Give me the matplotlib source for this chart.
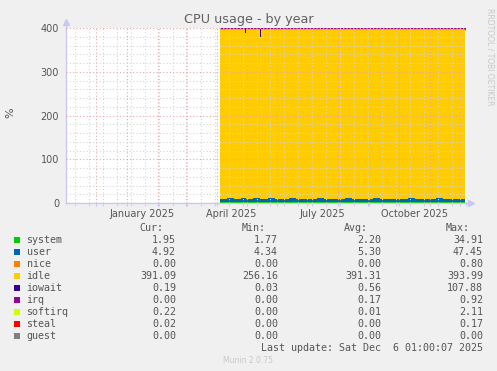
import datetime as dt
import numpy as np
import matplotlib
matplotlib.use("Agg")
import matplotlib.pyplot as plt
import matplotlib.dates as mdates
from matplotlib.patches import Rectangle

W, H = 497, 371

# sample dates (each value holds until the next date)
dates = ["2025-04-04", "2025-04-11", "2025-04-18", "2025-04-25", "2025-04-29",
         "2025-04-30", "2025-05-07", "2025-05-15", "2025-05-16", "2025-05-23",
         "2025-05-30", "2025-06-06", "2025-06-13", "2025-06-20", "2025-06-27",
         "2025-07-04", "2025-07-11", "2025-07-18", "2025-07-25", "2025-08-01",
         "2025-08-08", "2025-08-15", "2025-08-22", "2025-08-29", "2025-09-05",
         "2025-09-12", "2025-09-19", "2025-09-26", "2025-10-03", "2025-10-10",
         "2025-10-17", "2025-10-24", "2025-10-31", "2025-11-07", "2025-11-14",
         "2025-11-21", "2025-11-28", "2025-12-06"]

system = [2.3, 2.2, 2.1, 2.4, 3.0, 2.3, 2.2, 2.6, 2.2, 2.1, 2.2, 2.3, 2.1, 2.2, 2.0,
          2.2, 2.3, 2.1, 2.2, 2.0, 2.1, 2.2, 2.3, 2.1, 2.2, 2.4, 2.2, 2.1, 2.3, 2.2,
          2.1, 2.0, 2.2, 2.1, 2.0, 2.1, 1.9, 1.95]
user = [7.0, 9.5, 6.7, 8.0, 8.5, 6.5, 10.0, 7.5, 6.7, 9.0, 6.5, 6.8, 9.3, 6.6, 6.4,
        6.7, 9.7, 6.5, 6.9, 6.3, 9.4, 6.6, 6.5, 6.8, 9.5, 6.7, 6.4, 6.6, 6.5, 9.1,
        6.7, 6.3, 6.5, 8.9, 6.6, 6.4, 6.5, 4.92]
idle = [388.9, 386.0, 389.1, 387.7, 376.2, 388.9, 386.0, 369.6, 389.6, 388.0,
        390.6, 390.3, 387.9, 390.6, 391.1, 390.5, 387.5, 390.8, 390.4, 391.2,
        387.9, 390.7, 390.7, 390.5, 387.8, 390.4, 390.8, 390.8, 390.7, 388.1,
        390.5, 390.0, 390.7, 388.5, 390.9, 390.9, 391.1, 391.09]
iowait = [1.5, 2.0, 1.8, 1.6, 12.0, 2.0, 1.5, 20.0, 1.2, 0.6, 0.5, 0.4, 0.5, 0.4, 0.3,
          0.4, 0.3, 0.4, 0.3, 0.3, 0.4, 0.3, 0.3, 0.4, 0.3, 0.3, 0.4, 0.3, 0.3, 0.4,
          0.5, 1.5, 0.4, 0.3, 0.3, 0.4, 0.3, 0.19]
irq = [0.3, 0.3, 0.3, 0.3, 0.3, 0.3, 0.3, 0.3, 0.3, 0.3, 0.2, 0.2, 0.2, 0.2, 0.2,
       0.2, 0.2, 0.2, 0.2, 0.2, 0.2, 0.2, 0.2, 0.2, 0.2, 0.2, 0.2, 0.2, 0.2, 0.2,
       0.2, 0.2, 0.2, 0.2, 0.2, 0.2, 0.2, 0.0]
softirq = [0.01, 0.01, 0.01, 0.01, 0.01, 0.01, 0.01, 0.01, 0.01, 0.01, 0.01, 0.01,
           0.01, 0.01, 0.01, 0.01, 0.01, 0.01, 0.01, 0.01, 0.01, 0.01, 0.01, 0.01,
           0.01, 0.01, 0.01, 0.01, 0.01, 0.01, 0.01, 0.01, 0.01, 0.01, 0.01, 0.01,
           0.2, 0.22]

# legend table
names = ["system", "user", "nice", "idle", "iowait", "irq", "softirq", "steal", "guest"]
colors = ["#00CC00", "#0066B3", "#FF8000", "#FFCC00", "#330099", "#990099",
          "#CCFF00", "#FF0000", "#808080"]
cur = ["1.95", "4.92", "0.00", "391.09", "0.19", "0.00", "0.22", "0.02", "0.00"]
mins = ["1.77", "4.34", "0.00", "256.16", "0.03", "0.00", "0.00", "0.00", "0.00"]
avg = ["2.20", "5.30", "0.00", "391.31", "0.56", "0.17", "0.01", "0.00", "0.00"]
maxs = ["34.91", "47.45", "0.80", "393.99", "107.88", "0.92", "2.11", "0.17", "0.00"]

month_labels = ["January 2025", "April 2025", "July 2025", "October 2025"]
label_dates = [dt.datetime(2025, 1, 16), dt.datetime(2025, 4, 16),
               dt.datetime(2025, 7, 16), dt.datetime(2025, 10, 16)]

t0 = dt.datetime(2024, 11, 1, 1, 0)
t1 = dt.datetime(2025, 12, 6, 1, 0)

txt = "#555555"
axis_col = "#C8C8F0"
major_col = "#E8A8A8"
minor_col = "#D4D4D4"


def fx(x):
    return x / W


def fy(y):
    return 1 - y / H


fig = plt.figure(figsize=(W / 100, H / 100), dpi=100, facecolor="#F0F0F0")
ax = fig.add_axes([fx(66), fy(203), 400 / W, 175 / H])
ax.set_facecolor("white")

x = mdates.date2num([dt.datetime.fromisoformat(d) for d in dates])
layers = [system, user, idle, iowait, irq, softirq]
lcols = ["#00CC00", "#0066B3", "#FFCC00", "#330099", "#990099", "#CCFF00"]
tops = np.cumsum(np.array(layers), axis=0)
lower = np.zeros(len(x))
for top, c in zip(tops, lcols):
    ax.fill_between(x, lower, top, step="post", color=c, linewidth=0, zorder=1)
    lower = top
# irq shows as a thin line along the top
ax.step(x, tops[4], where="post", color="#990099", lw=1.0, zorder=1.5)

ax.set_xlim(mdates.date2num(t0), mdates.date2num(t1))
ax.set_ylim(0, 400)

# grid: pink at month starts, grey every two weeks
ax.xaxis.set_major_locator(mdates.MonthLocator())
ax.set_xticks([mdates.date2num(dt.datetime(2024, 11, 10) + dt.timedelta(days=14 * i))
               for i in range(29)], minor=True)
ax.xaxis.set_major_formatter(plt.NullFormatter())
ax.set_yticks([0, 100, 200, 300, 400])
ax.set_yticks(range(0, 401, 20), minor=True)
ax.grid(which="minor", color=minor_col, linestyle=(0, (1, 2)), linewidth=0.8)
ax.grid(which="major", color=major_col, linestyle=(0, (1, 2)), linewidth=0.8)
ax.set_axisbelow(False)
ax.tick_params(axis="y", which="both", length=0, labelsize=7, labelcolor=txt, pad=5)
ax.tick_params(axis="x", which="both", direction="out", length=2, color=axis_col)

for lab, d in zip(month_labels, label_dates):
    ax.text(mdates.date2num(d), -0.065, lab, transform=ax.get_xaxis_transform(),
            ha="center", va="center", fontsize=7, color=txt)

for s in ["top", "right"]:
    ax.spines[s].set_visible(False)
for s in ["left", "bottom"]:
    ax.spines[s].set_color(axis_col)
    ax.spines[s].set_linewidth(1)
ax.plot([0, 0], [1.0, 1.035], color=axis_col, lw=1, transform=ax.transAxes, clip_on=False)
ax.plot([0], [1.035], marker="^", ms=4, color=axis_col, transform=ax.transAxes, clip_on=False)
ax.plot([1.0, 1.0125], [0, 0], color=axis_col, lw=1, transform=ax.transAxes, clip_on=False)
ax.plot([1.0125], [0], marker=">", ms=4, color=axis_col, transform=ax.transAxes, clip_on=False)

fig.text(fx(248.5), fy(19), "CPU usage - by year", ha="center", va="center",
         fontsize=9.2, color="#606060")
fig.text(fx(10), fy(113), "%", rotation=90, ha="center", va="center", fontsize=8, color=txt)
fig.text(fx(490), fy(57), "RRDTOOL / TOBI OETIKER", rotation=-90, ha="center",
         va="center", fontsize=5.5, color="#C8C8C8")

# legend table
mono = "DejaVu Sans Mono"
fs = 7.2
for hx, h in zip([163, 266, 368, 470], ["Cur:", "Min:", "Avg:", "Max:"]):
    fig.text(fx(hx), fy(228), h, ha="right", va="center", family=mono, fontsize=fs, color=txt)
for i, n in enumerate(names):
    yy = 240 + 12 * i
    fig.patches.append(Rectangle((fx(14), fy(yy + 3)), 6 / W, 6 / H, transform=fig.transFigure,
                                 facecolor=colors[i], edgecolor="none"))
    fig.text(fx(26.5), fy(yy), n, ha="left", va="center", family=mono, fontsize=fs, color=txt)
    for cx, vals in zip([176, 278, 381, 483], [cur, mins, avg, maxs]):
        fig.text(fx(cx), fy(yy), vals[i], ha="right", va="center", family=mono,
                 fontsize=fs, color=txt)
fig.text(fx(483), fy(348), "Last update: Sat Dec  6 01:00:07 2025", ha="right",
         va="center", family=mono, fontsize=fs, color=txt)
fig.text(fx(248), fy(360.5), "Munin 2.0.75", ha="center", va="center", fontsize=5.5,
         color="#C8C8C8")

fig.savefig("out.png", dpi=100, facecolor=fig.get_facecolor())
